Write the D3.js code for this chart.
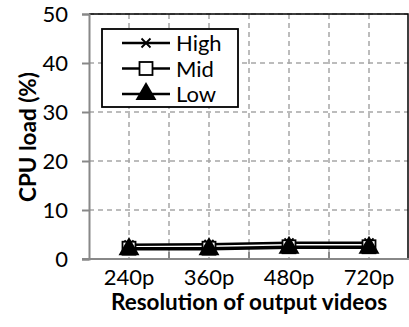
<!DOCTYPE html>
<html><head><meta charset="utf-8">
<script src="https://cdn.jsdelivr.net/npm/d3@7"></script>
<style>body{margin:0;background:#fff}svg{display:block}</style>
</head><body>
<svg id="c" width="409" height="327"></svg>
<script>
const categories = ["240p","360p","480p","720p"];
const highVals = [2.9, 3.0, 3.3, 3.3];
const midVals  = [2.2, 2.2, 2.5, 2.5];
const lowVals  = [2.0, 2.0, 2.3, 2.3];
const yTicks = [0,10,20,30,40,50];
const seriesNames = ["High","Mid","Low"];

const series = [
  {name: seriesNames[0], values: highVals, marker: "cross"},
  {name: seriesNames[1], values: midVals, marker: "square"},
  {name: seriesNames[2], values: lowVals, marker: "triangle"}
];

const svg = d3.select("#c");
const L = 89, R = 408, T = 14, B = 259;
const font = "Lato, 'Open Sans', sans-serif";
const x = d3.scaleBand().domain(categories).range([L, L+320]).padding(0);
const y = d3.scaleLinear().domain([0,50]).range([B, T]);
const cx = c => x(c) + x.bandwidth()/2;

// gridlines horizontal
svg.append("g").selectAll("line").data(yTicks.filter(d=>d>0)).join("line")
  .attr("x1", L).attr("x2", R).attr("y1", d=>y(d)).attr("y2", d=>y(d))
  .attr("stroke", "#a6a6a6").attr("stroke-width", 1.5).attr("stroke-dasharray", "5,4");
// vertical gridlines at centers and boundaries
const vx = [];
categories.forEach((c,i)=>{ vx.push(cx(c)); if(i<categories.length-1) vx.push(x(c)+x.bandwidth()); });
svg.append("g").selectAll("line").data(vx).join("line")
  .attr("x1", d=>d).attr("x2", d=>d).attr("y1", T).attr("y2", B)
  .attr("stroke", "#a6a6a6").attr("stroke-width", 1.5).attr("stroke-dasharray", "5,4");

// top and right border
svg.append("path").attr("d", `M${L},${T}H${R}V${B}`).attr("fill","none")
  .attr("stroke","#000").attr("stroke-width",1.5);

// y axis
const yAxis = svg.append("g").attr("transform", `translate(${L},0)`)
  .call(d3.axisLeft(y).tickValues(yTicks).tickSize(7).tickPadding(14));
yAxis.select(".domain").attr("stroke","#888").attr("stroke-width",2);
yAxis.selectAll(".tick line").attr("stroke","#888").attr("stroke-width",2);
yAxis.selectAll("text").attr("font-family", font).attr("font-size", 22).attr("fill","#000");

// x axis
const xAxis = svg.append("g").attr("transform", `translate(0,${B})`)
  .call(d3.axisBottom(x).tickSize(0).tickPadding(10));
xAxis.select(".domain").remove();
xAxis.selectAll("text").attr("font-family", font).attr("font-size", 22).attr("fill","#000");
svg.append("line").attr("x1", L-7).attr("x2", R+1).attr("y1", B).attr("y2", B)
  .attr("stroke","#888").attr("stroke-width",2);
// inner ticks at boundaries
const bx = categories.slice(1).map(c=>x(c));
svg.append("g").selectAll("line").data(bx).join("line")
  .attr("x1", d=>d).attr("x2", d=>d).attr("y1", B).attr("y2", B-7)
  .attr("stroke","#888").attr("stroke-width",2);

// axis titles
svg.append("text").attr("x", 249).attr("y", 310).attr("text-anchor","middle")
  .attr("font-family", font).attr("font-weight","bold").attr("font-size", 22.5)
  .text("Resolution of output videos");
svg.append("text").attr("transform", "translate(36,137) rotate(-90)").attr("text-anchor","middle")
  .attr("font-family", font).attr("font-weight","bold").attr("font-size", 22.5)
  .text("CPU load (%)");

function drawMarker(g, type, px, py) {
  if (type === "cross") {
    const s = 4.5;
    g.append("path").attr("d", `M${px-s},${py-s}L${px+s},${py+s}M${px-s},${py+s}L${px+s},${py-s}`)
      .attr("stroke","#000").attr("stroke-width",1.8).attr("fill","none");
  } else if (type === "square") {
    const s = 6.5;
    g.append("rect").attr("x", px-s).attr("y", py-s).attr("width", 2*s).attr("height", 2*s)
      .attr("fill","#fff").attr("stroke","#000").attr("stroke-width",1.8);
  } else {
    g.append("path").attr("d", d3.symbol(d3.symbolTriangle, 190)())
      .attr("transform", `translate(${px},${py})`).attr("fill","#000");
  }
}

const line = d3.line().x((d,i)=>cx(categories[i])).y(d=>y(d));
series.forEach(s=>{
  svg.append("path").datum(s.values).attr("d", line).attr("fill","none")
    .attr("stroke","#000").attr("stroke-width",2.5);
});
series.forEach(s=>{
  const g = svg.append("g");
  s.values.forEach((v,i)=>drawMarker(g, s.marker, cx(categories[i]), y(v)));
});

// legend
const lg = svg.append("g");
lg.append("rect").attr("x",102).attr("y",29).attr("width",136).attr("height",78)
  .attr("fill","#fff").attr("stroke","#000").attr("stroke-width",1.8);
series.forEach((s,i)=>{
  const ly = 43 + i*25.5;
  lg.append("line").attr("x1",122).attr("x2",170).attr("y1",ly).attr("y2",ly)
    .attr("stroke","#000").attr("stroke-width",2.5);
  drawMarker(lg, s.marker, 146, ly);
  lg.append("text").attr("x",176).attr("y",ly+8).attr("font-family",font).attr("font-size",22)
    .text(s.name);
});
</script>
</body></html>
